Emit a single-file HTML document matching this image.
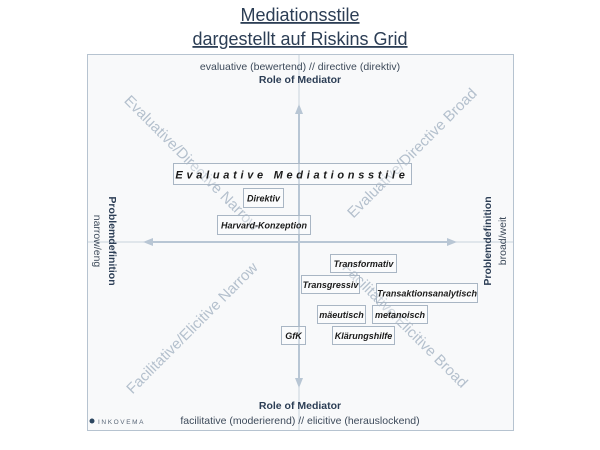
<!DOCTYPE html>
<html><head><meta charset="utf-8"><style>
body{margin:0;width:600px;height:450px;background:#fff;overflow:hidden;font-family:"Liberation Sans",sans-serif;}
svg{position:absolute;left:0;top:0}
</style></head><body>
<svg width="600" height="450" xmlns="http://www.w3.org/2000/svg" font-family="Liberation Sans, sans-serif">
<text x="300" y="21" text-anchor="middle" font-size="18" fill="#2c3e55" text-decoration="underline">Mediationsstile</text>
<text x="300" y="45" text-anchor="middle" font-size="18" fill="#2c3e55" text-decoration="underline">dargestellt auf Riskins Grid</text>
<rect x="87.5" y="54.5" width="426" height="376" fill="#f8f9fa" stroke="#b6c3d0" stroke-width="1"/>
<line x1="299" y1="55" x2="299" y2="430" stroke="#c8d2dc" stroke-width="1"/>
<line x1="88" y1="242" x2="513" y2="242" stroke="#c8d2dc" stroke-width="1"/>
<line x1="299" y1="112" x2="299" y2="380" stroke="#b8c6d4" stroke-width="2"/>
<polygon points="299,104 295,114 303,114" fill="#b8c6d4"/>
<polygon points="299,388 295,378 303,378" fill="#b8c6d4"/>
<line x1="150" y1="242" x2="450" y2="242" stroke="#b8c6d4" stroke-width="2"/>
<polygon points="143,242 153,238 153,246" fill="#b8c6d4"/>
<polygon points="457,242 447,238 447,246" fill="#b8c6d4"/>
<g font-size="15" fill="#b4c0cd" text-anchor="middle">
<text transform="translate(192,163) rotate(45)" dy="5">Evaluative/Directive Narrow</text>
<text transform="translate(412,153) rotate(-45)" dy="5">Evaluative/Directive Broad</text>
<text transform="translate(192,328) rotate(-45)" dy="5">Facilitative/Elicitive Narrow</text>
<text transform="translate(405,325) rotate(45)" dy="5">Facilitative/Elicitive Broad</text>
</g>
<text x="300" y="70" text-anchor="middle" font-size="10.5" fill="#3d4a5a">evaluative (bewertend) // directive (direktiv)</text>
<text x="300" y="83" text-anchor="middle" font-size="10.5" font-weight="bold" fill="#2c3e55">Role of Mediator</text>
<text x="300" y="409" text-anchor="middle" font-size="10.5" font-weight="bold" fill="#2c3e55">Role of Mediator</text>
<text x="300" y="424" text-anchor="middle" font-size="10.5" fill="#3d4a5a">facilitative (moderierend) // elicitive (herauslockend)</text>
<text transform="translate(113,241) rotate(90)" text-anchor="middle" font-size="10.5" font-weight="bold" fill="#2c3e55" dy="4">Problemdefinition</text>
<text transform="translate(98,241) rotate(90)" text-anchor="middle" font-size="10.5" fill="#3d4a5a" dy="4">narrow/eng</text>
<text transform="translate(487,241) rotate(-90)" text-anchor="middle" font-size="10.5" font-weight="bold" fill="#2c3e55" dy="4">Problemdefinition</text>
<text transform="translate(502,241) rotate(-90)" text-anchor="middle" font-size="10.5" fill="#3d4a5a" dy="4">broad/weit</text>
<circle cx="92" cy="421" r="2.5" fill="#2c4660"/>
<text x="98" y="424" font-size="6.5" fill="#5b6878" letter-spacing="1.6">INKOVEMA</text>
<g fill="rgba(255,255,255,0.35)" stroke="#a9b6c4" stroke-width="1">
<rect x="173.5" y="163.5" width="238" height="21"/>
<rect x="243.5" y="188.5" width="40" height="19"/>
<rect x="217.5" y="215.5" width="93" height="19"/>
<rect x="330.5" y="254.5" width="66" height="18"/>
<rect x="301.5" y="275.5" width="58" height="18"/>
<rect x="376.5" y="283.5" width="101" height="19"/>
<rect x="317.5" y="305.5" width="48" height="18"/>
<rect x="372.5" y="305.5" width="55" height="18"/>
<rect x="281.5" y="326.5" width="24" height="18"/>
<rect x="332.5" y="326.5" width="62" height="18"/>
</g>
<g font-size="9" font-weight="bold" font-style="italic" fill="#1a1a1a" text-anchor="middle">
<text x="292" y="178.5" font-size="11" letter-spacing="3.7">Evaluative Mediationsstile</text>
<text x="263.5" y="201.5">Direktiv</text>
<text x="264" y="228.5">Harvard-Konzeption</text>
<text x="363.5" y="267">Transformativ</text>
<text x="330.5" y="288">Transgressiv</text>
<text x="427" y="296.5">Transaktionsanalytisch</text>
<text x="341.5" y="318">mäeutisch</text>
<text x="400" y="318">metanoisch</text>
<text x="293.5" y="339">GfK</text>
<text x="363.5" y="339">Klärungshilfe</text>
</g>
</svg>
</body></html>
